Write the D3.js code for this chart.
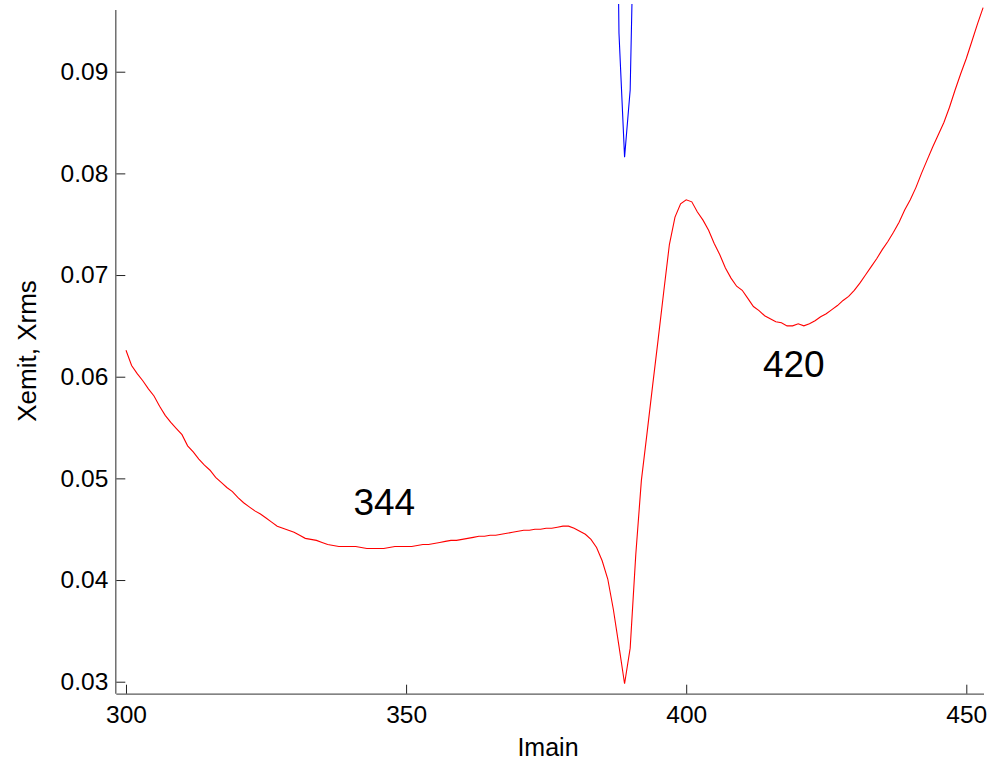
<!DOCTYPE html>
<html>
<head>
<meta charset="utf-8">
<script src="https://cdn.jsdelivr.net/npm/d3@7"></script>
<style>
  html, body { margin: 0; padding: 0; background: #fff; }
  svg { display: block; font-family: "Liberation Sans", Arial, sans-serif; }
</style>
</head>
<body>
<svg id="chart" width="996" height="765"></svg>
<script>
// ---- data ----
const redX = d3.range(300, 454);
const redY = [
  0.0626, 0.0611, 0.0603, 0.0596, 0.0588, 0.0581, 0.0571, 0.0562, 0.0555, 0.0549, // 300-309
  0.0543, 0.0532, 0.0526, 0.0519, 0.0513, 0.0508, 0.0501, 0.0496, 0.0491, 0.0487, // 310-319
  0.0481, 0.0476, 0.0472, 0.0468, 0.0465, 0.0461, 0.0457, 0.0453, 0.0451, 0.0449, // 320-329
  0.0447, 0.0444, 0.0441, 0.0440, 0.0439, 0.0437, 0.0435, 0.0434, 0.0433, 0.0433, // 330-339
  0.0433, 0.0433, 0.0432, 0.0431, 0.0431, 0.0431, 0.0431, 0.0432, 0.0433, 0.0433, // 340-349
  0.0433, 0.0433, 0.0434, 0.0435, 0.0435, 0.0436, 0.0437, 0.0438, 0.0439, 0.0439, // 350-359
  0.0440, 0.0441, 0.0442, 0.0443, 0.0443, 0.0444, 0.0444, 0.0445, 0.0446, 0.0447, // 360-369
  0.0448, 0.0449, 0.0449, 0.0450, 0.0450, 0.0451, 0.0451, 0.0452, 0.0453, 0.0453, // 370-379
  0.0451, 0.0448, 0.0445, 0.0440, 0.0432, 0.0419, 0.0401, 0.0371, 0.0335, 0.0298, // 380-389
  0.0333, 0.0425, 0.0498, 0.0544, 0.0591, 0.0637, 0.0684, 0.0730, 0.0757, 0.0770, // 390-399
  0.0774, 0.0772, 0.0762, 0.0754, 0.0744, 0.0731, 0.0720, 0.0707, 0.0697, 0.0689, // 400-409
  0.0685, 0.0677, 0.0669, 0.0665, 0.0660, 0.0657, 0.0654, 0.0653, 0.0650, 0.0650, // 410-419
  0.0652, 0.0650, 0.0652, 0.0655, 0.0659, 0.0662, 0.0666, 0.0670, 0.0675, 0.0679, // 420-429
  0.0685, 0.0692, 0.0700, 0.0708, 0.0716, 0.0725, 0.0733, 0.0742, 0.0752, 0.0764, // 430-439
  0.0774, 0.0786, 0.0800, 0.0813, 0.0826, 0.0838, 0.0850, 0.0865, 0.0882, 0.0898, // 440-449
  0.0913, 0.0930, 0.0947, 0.0963                                                  // 450-453
];
const blueX = [387, 388, 389, 390, 391];
const blueY = [0.14, 0.0938, 0.0816, 0.0882, 0.115];

const xTicks = [300, 350, 400, 450];
const yTicks = [0.03, 0.04, 0.05, 0.06, 0.07, 0.08, 0.09];

const annotations = [
  { text: "344", x: 346.1, y: 0.0464 },
  { text: "420", x: 419.2, y: 0.0600 }
];
const xLabel = "Imain";
const yLabel = "Xemit, Xrms";

// ---- layout ----
const svg = d3.select("#chart");
const L = 116.3, R = 984, T = 10, B = 693.7;
const x = d3.scaleLinear().domain([298.27, 453.16]).range([L, R]);
const y = d3.scaleLinear().domain([0.02882, 0.09607]).range([B, T]);

svg.append("defs").append("clipPath").attr("id", "clip")
  .append("rect").attr("x", L).attr("y", T - 6).attr("width", R - L).attr("height", B - T + 6);

const line = d3.line().x(d => x(d[0])).y(d => y(d[1]));

const plot = svg.append("g").attr("clip-path", "url(#clip)");
plot.append("path")
  .datum(redX.map((v, i) => [v, redY[i]]))
  .attr("d", line).attr("fill", "none").attr("stroke", "#ff0000").attr("stroke-width", 1.1);
plot.append("path")
  .datum(blueX.map((v, i) => [v, blueY[i]]))
  .attr("d", line).attr("fill", "none").attr("stroke", "#0000ff").attr("stroke-width", 1.1);

// axes
const fs = 24.5;
const xAxis = d3.axisBottom(x).tickValues(xTicks).tickSizeInner(-9).tickSizeOuter(0).tickPadding(12.4)
  .tickFormat(d3.format("d"));
const yAxis = d3.axisLeft(y).tickValues(yTicks).tickSizeInner(-9).tickSizeOuter(0).tickPadding(8)
  .tickFormat(d3.format(".2f"));

const gx = svg.append("g").attr("transform", `translate(0,${B})`).call(xAxis);
const gy = svg.append("g").attr("transform", `translate(${L},0)`).call(yAxis);
[gx, gy].forEach(g => {
  g.select(".domain").attr("stroke", "#5a5a5a").attr("stroke-width", 1.3);
  g.selectAll(".tick line").attr("stroke", "#222").attr("stroke-width", 1);
  g.selectAll(".tick text").attr("fill", "#000").style("font-size", fs + "px")
    .style("font-family", "'Liberation Sans', Arial, sans-serif");
});
gx.select(".domain").attr("d", `M${L},0.5H${R}`);
gy.select(".domain").attr("d", `M-0.5,${B}V${T}`);

// axis labels
svg.append("text").attr("x", 548).attr("y", 756).attr("text-anchor", "middle")
  .style("font-size", "25px").text(xLabel);
svg.append("text").attr("transform", `translate(36,351) rotate(-90)`).attr("text-anchor", "middle")
  .style("font-size", "26px").text(yLabel);

// annotations
svg.selectAll("text.ann").data(annotations).enter().append("text")
  .attr("class", "ann")
  .attr("x", d => x(d.x))
  .attr("y", d => y(d.y))
  .attr("text-anchor", "middle")
  .style("font-size", "37px").attr("fill", "#000")
  .text(d => d.text);
</script>
</body>
</html>
